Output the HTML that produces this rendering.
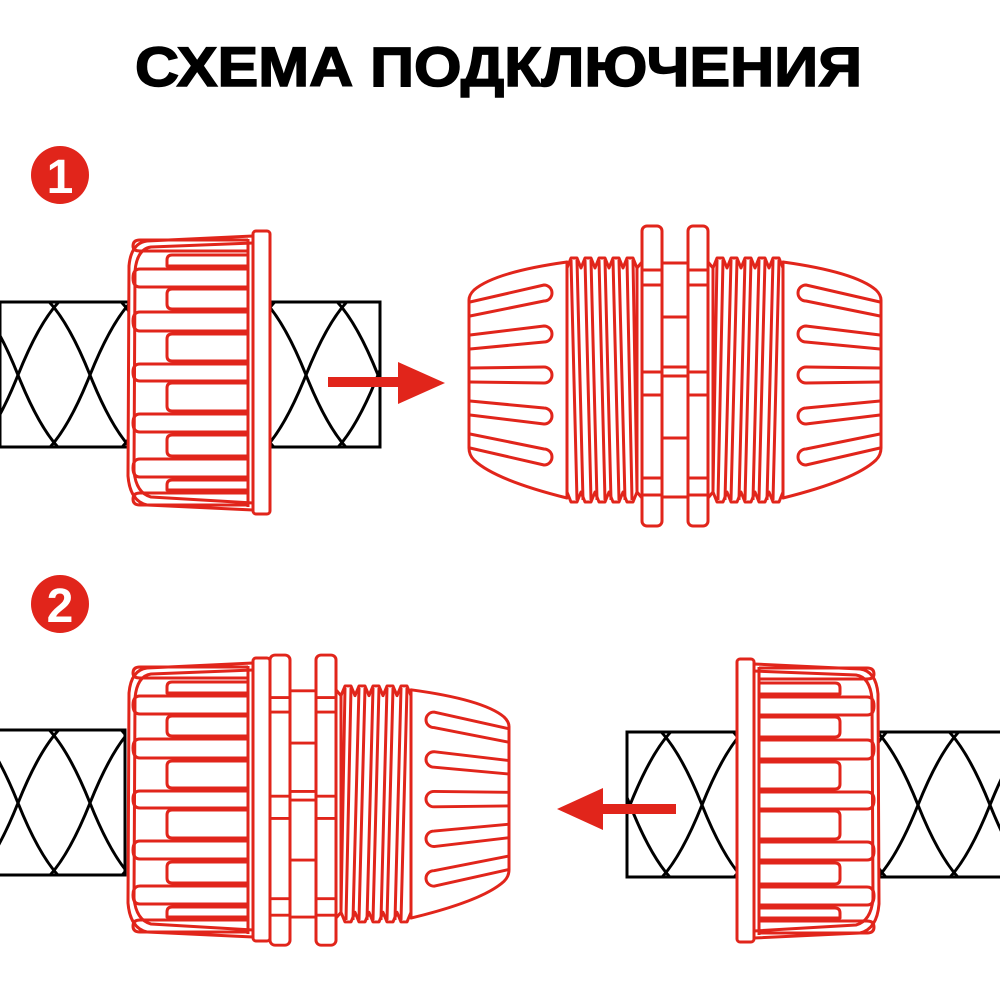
<!DOCTYPE html>
<html><head><meta charset="utf-8"><style>html,body{margin:0;padding:0;background:#fff}svg{display:block}</style></head>
<body>
<svg width="1000" height="1000" viewBox="0 0 1000 1000" xmlns="http://www.w3.org/2000/svg">
<defs>
<clipPath id="h1"><rect x="0" y="302" width="380" height="145"/></clipPath>
<clipPath id="h2"><rect x="0" y="730" width="125" height="145"/></clipPath>
<clipPath id="h3"><rect x="627" y="732" width="373" height="145"/></clipPath>
<path id="wave" d="M-288,0 q72,-180 144,0 t144,0 t144,0 t144,0 t144,0 t144,0 t144,0 t144,0 t144,0 t144,0 t144,0"/>
<g id="braid" fill="none" stroke="#000" stroke-width="3">
 <use href="#wave" transform="translate(0,0)"/>
 <use href="#wave" transform="translate(72,0)"/>
 <use href="#wave" transform="translate(144,0)"/>
 <use href="#wave" transform="translate(216,0)"/>
</g>
<g id="nut" stroke="#e1251b" stroke-width="3" fill="none" stroke-linejoin="round">
 <path d="M128,5 L22,10 Q6,12 4,35 L3,245 Q5,270 22,274 L128,279 Z" fill="#fff"/>
 <path d="M128,12 L26,16 Q12,18 10,40 L9,240 Q11,262 26,266 L128,272"/>
 <path d="M123,9 L15,9 Q8,9 8,15 Q8,20 15,20 L123,20"/>
 <path d="M123,24 L47,24 Q42,24 42,29 L42,35 L123,35"/>
 <path d="M123,38 L15,38 Q8,38 8,47 Q8,56 15,56 L123,56"/>
 <path d="M123,58 L47,58 Q42,58 42,63 L42,73 Q42,78 47,78 L123,78"/>
 <path d="M123,81 L15,81 Q8,81 8,90 Q8,100 15,100 L123,100"/>
 <path d="M123,103 L47,103 Q42,103 42,108 L42,125 Q42,130 47,130 L123,130"/>
 <path d="M123,133 L15,133 Q8,133 8,141 Q8,150 15,150 L123,150"/>
 <path d="M123,152 L47,152 Q42,152 42,157 L42,175 Q42,180 47,180 L123,180"/>
 <path d="M123,183 L15,183 Q8,183 8,192 Q8,201 15,201 L123,201"/>
 <path d="M123,204 L47,204 Q42,204 42,209 L42,220 Q42,225 47,225 L123,225"/>
 <path d="M123,228 L15,228 Q8,228 8,237 Q8,246 15,246 L123,246"/>
 <path d="M123,249 L47,249 Q42,249 42,254 L42,259 L123,259"/>
 <path d="M123,262 L15,262 Q8,262 8,268 Q8,274 15,274 L123,274"/>
 <line x1="123" y1="8" x2="123" y2="276"/>
 <rect x="128" y="0" width="17" height="283" rx="3" fill="#fff"/>
</g>
<g id="flange" stroke="#e1251b" stroke-width="3" fill="none">
 <path d="M662,263 L675,263 M662,497 L675,497 M662,317 L675,317 M662,367 L675,367 M662,376 L675,376 M662,438 L675,438"/>
 <rect x="642" y="226" width="20" height="300" rx="5" fill="#fff"/>
 <path d="M642,270 L662,270 M642,285 L662,285 M642,372 L662,372 M642,395 L662,395 M642,478 L662,478 M642,495 L662,495"/>
</g>
<g id="tc" stroke="#e1251b" stroke-width="3" fill="none" stroke-linejoin="round">
 <path d="M567,262 Q495,272 474,290 Q469,295 469,300 L469,448 Q469,455 474,460 Q495,480 567,498 Z" fill="#fff"/>
 <path d="M470,302 L544,285 A8,8 0 0 1 544,301 L470,316"/>
 <path d="M470,335 L544,326 A8,8 0 0 1 544,342 L470,349"/>
 <path d="M470,368 L544,367 A8,8 0 0 1 544,383 L470,382"/>
 <path d="M470,401 L544,408 A8,8 0 0 1 544,424 L470,415"/>
 <path d="M470,434 L544,449 A8,8 0 0 1 544,465 L470,448"/>
 <path d="M567,268 L571,258 L577,258 L581,268 L585,258 L591,258 L595,268 L599,258 L605,258 L609,268 L613,258 L619,258 L623,268 L627,258 L633,258 L637,268 L642,262"/>
 <path d="M567,492 L571,502 L577,502 L581,492 L585,502 L591,502 L595,492 L599,502 L605,502 L609,492 L613,502 L619,502 L623,492 L627,502 L633,502 L637,492 L642,498"/>
 <path d="M567,262 L567,498 M637,268 L637,492"/>
 <path d="M571,260 L577,500 M577,260 L583,500 M585,260 L591,500 M591,260 L597,500 M599,260 L605,500 M605,260 L611,500 M613,260 L619,500 M619,260 L625,500 M627,260 L632,500 M633,260 L637,490"/>
</g>
</defs>

<text x="135" y="86" font-family="Liberation Sans, sans-serif" font-weight="bold" font-size="56" textLength="727" lengthAdjust="spacingAndGlyphs" stroke="#000" stroke-width="1.5" fill="#000">СХЕМА ПОДКЛЮЧЕНИЯ</text>

<circle cx="60" cy="175" r="29" fill="#e1251b"/>
<text x="60" y="193" text-anchor="middle" font-family="Liberation Sans, sans-serif" font-weight="bold" font-size="48" fill="#fff">1</text>
<circle cx="60" cy="604" r="29" fill="#e1251b"/>
<text x="60" y="622" text-anchor="middle" font-family="Liberation Sans, sans-serif" font-weight="bold" font-size="48" fill="#fff">2</text>

<g clip-path="url(#h1)"><use href="#braid" transform="translate(18,375)"/></g>
<rect x="0" y="302" width="380" height="145" fill="none" stroke="#000" stroke-width="3"/>
<use href="#nut" transform="translate(125,231)"/>
<rect x="328" y="377" width="74" height="10" fill="#e1251b"/>
<polygon points="398,362 445,383 398,404" fill="#e1251b"/>

<use href="#tc"/><use href="#flange"/>
<g transform="translate(1350,0) scale(-1,1)"><use href="#tc"/><use href="#flange"/></g>

<g clip-path="url(#h2)"><use href="#braid" transform="translate(18,803)"/></g>
<rect x="-5" y="730" width="130" height="145" fill="none" stroke="#000" stroke-width="3"/>
<g transform="translate(-372,436.5) scale(1,0.967)">
 <use href="#flange"/>
 <g transform="translate(1350,0) scale(-1,1)"><use href="#tc"/><use href="#flange"/></g>
</g>
<use href="#nut" transform="translate(125,658)"/>

<g clip-path="url(#h3)"><use href="#braid" transform="translate(630,805)"/></g>
<rect x="627" y="732" width="380" height="145" fill="none" stroke="#000" stroke-width="3"/>
<use href="#nut" transform="translate(882,659) scale(-1,1)"/>
<rect x="600" y="804" width="76" height="10" fill="#e1251b"/>
<polygon points="603,788 557,809 603,830" fill="#e1251b"/>
</svg>
</body></html>
